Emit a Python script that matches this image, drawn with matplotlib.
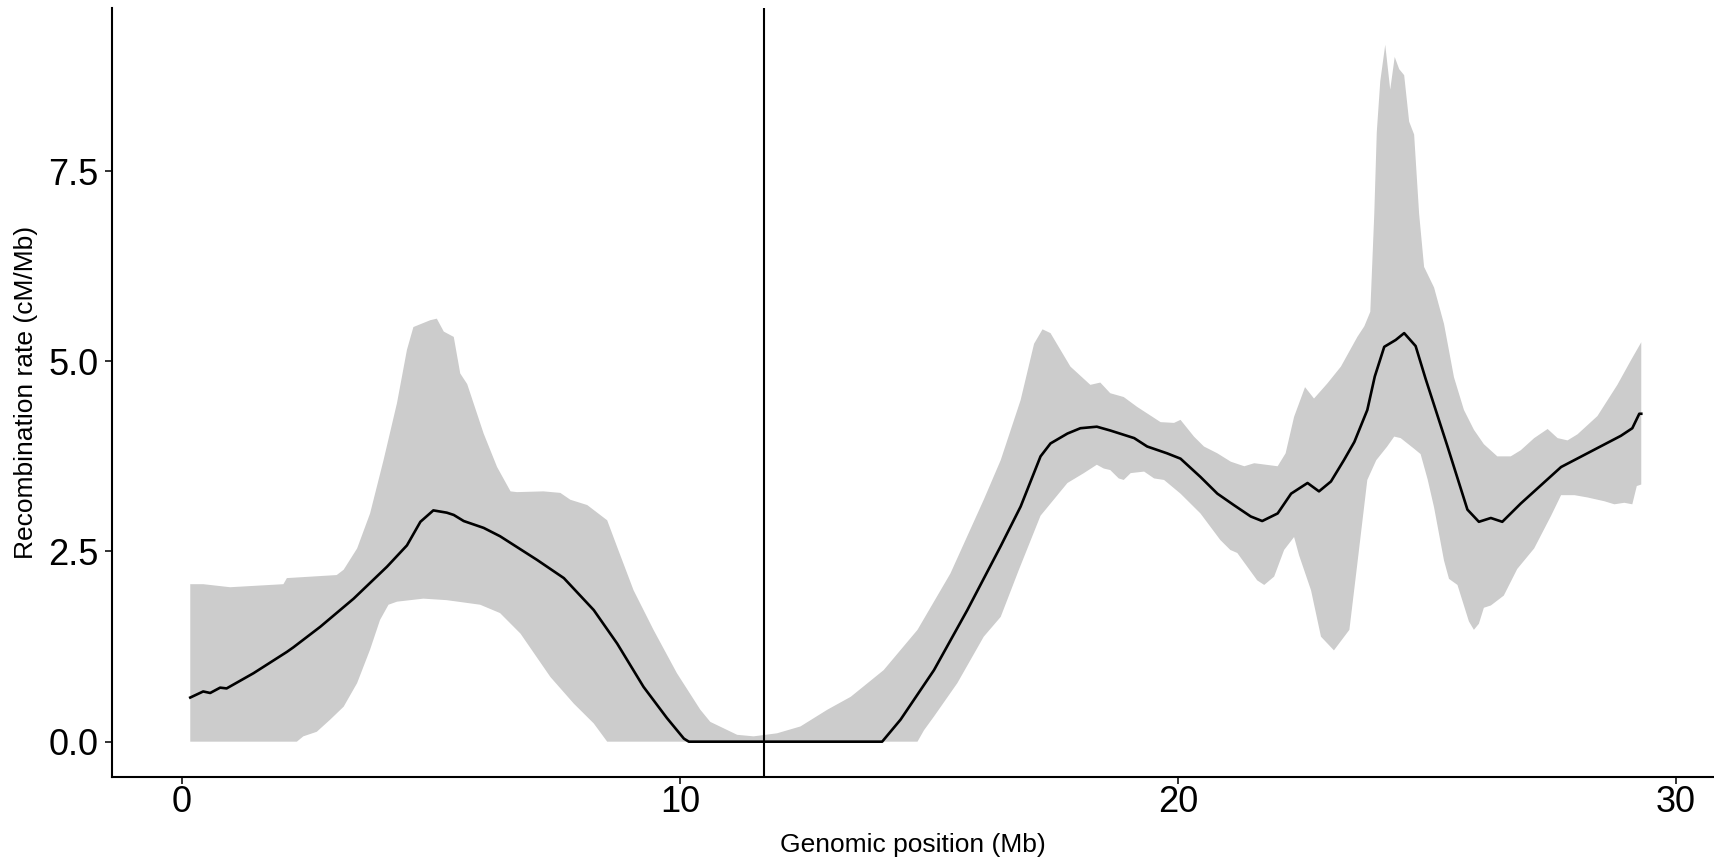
import matplotlib
matplotlib.use("Agg")
import matplotlib.pyplot as plt
import numpy as np

plt.rcParams['font.family'] = ['Liberation Sans', 'DejaVu Sans']

# upper edge of the ribbon
upper_x = [0.17, 0.43, 0.97, 2.04, 2.11, 3.11, 3.25, 3.52, 3.78, 4.05, 4.32, 4.52, 4.65, 4.99,
           5.12, 5.26, 5.46, 5.59, 5.73, 6.06, 6.33, 6.60, 6.73, 7.26, 7.60, 7.80, 8.14, 8.54,
           8.74, 9.07, 9.47, 9.94, 10.41, 10.61, 11.15, 11.48, 11.95, 12.42, 12.96,
           13.43, 14.09, 14.77, 15.43, 16.10, 16.44, 16.84, 17.11, 17.28, 17.44, 17.84, 18.24,
           18.44, 18.64, 18.91, 19.18, 19.65, 19.92, 20.05, 20.32, 20.52, 20.79, 21.06, 21.33,
           21.53, 22.00, 22.16, 22.33, 22.55, 22.73, 23.00, 23.27, 23.60, 23.74, 23.86,
           23.94, 23.99, 24.06, 24.16, 24.26, 24.35, 24.44, 24.54, 24.64, 24.74, 24.84, 24.94,
           25.14, 25.34, 25.54, 25.74, 25.94, 26.14, 26.41, 26.68, 26.88, 27.15, 27.42, 27.62,
           27.82, 28.02, 28.42, 28.82, 29.09, 29.30]
upper_y = [2.07, 2.07, 2.03, 2.07, 2.15, 2.19, 2.26, 2.54, 3.00, 3.70, 4.45, 5.15, 5.45, 5.54,
           5.56, 5.39, 5.32, 4.84, 4.70, 4.05, 3.61, 3.29, 3.28, 3.29, 3.27, 3.18, 3.11, 2.91,
           2.56, 1.99, 1.47, 0.90, 0.42, 0.26, 0.09, 0.07, 0.11, 0.20, 0.42,
           0.59, 0.94, 1.47, 2.21, 3.18, 3.70, 4.49, 5.23, 5.42, 5.37, 4.93, 4.69,
           4.72, 4.58, 4.53, 4.40, 4.20, 4.19, 4.23, 4.01, 3.88, 3.79, 3.68, 3.62,
           3.66, 3.62, 3.79, 4.27, 4.66, 4.51, 4.71, 4.93, 5.32, 5.46, 5.65,
           6.94, 8.01, 8.68, 9.16, 8.57, 9.00, 8.84, 8.76, 8.15, 7.98, 6.94, 6.24,
           5.97, 5.49, 4.79, 4.36, 4.10, 3.91, 3.75, 3.75, 3.83, 3.99, 4.11, 3.99,
           3.96, 4.04, 4.28, 4.69, 5.01, 5.25]

# lower edge of the ribbon
lower_x = [0.17, 2.31, 2.44, 2.71, 2.98, 3.25, 3.52, 3.78, 3.98, 4.15, 4.32, 4.85, 5.32, 5.99,
           6.39, 6.80, 7.40, 7.87, 8.27, 8.54, 14.77, 14.90, 15.10, 15.57, 16.10,
           16.44, 16.80, 17.24, 17.78, 18.11, 18.37, 18.51, 18.64, 18.81, 18.91, 19.05, 19.32,
           19.52, 19.72, 20.05, 20.45, 20.85, 21.05, 21.19, 21.39, 21.59, 21.73, 21.93, 22.13,
           22.33, 22.43, 22.67, 22.87, 23.13, 23.44, 23.60, 23.80, 23.98, 24.20,
           24.34, 24.47, 24.74, 24.87, 25.01, 25.14, 25.34, 25.44, 25.61, 25.84, 25.94, 26.04,
           26.14, 26.28, 26.54, 26.81, 27.15, 27.49, 27.69, 27.96, 28.22, 28.56, 28.76, 28.96,
           29.12, 29.21, 29.30]
lower_y = [0.00, 0.00, 0.07, 0.13, 0.29, 0.46, 0.77, 1.21, 1.60, 1.80, 1.84, 1.88, 1.86, 1.80,
           1.69, 1.42, 0.85, 0.50, 0.24, 0.00, 0.00, 0.15, 0.33, 0.77, 1.38,
           1.64, 2.25, 2.97, 3.40, 3.53, 3.64, 3.59, 3.57, 3.46, 3.44, 3.53, 3.55,
           3.46, 3.44, 3.26, 3.00, 2.65, 2.52, 2.48, 2.30, 2.12, 2.06, 2.17, 2.52,
           2.69, 2.45, 1.99, 1.38, 1.20, 1.47, 2.34, 3.44, 3.70, 3.88,
           4.01, 3.99, 3.85, 3.78, 3.45, 3.08, 2.38, 2.14, 2.06, 1.58, 1.47, 1.55,
           1.76, 1.79, 1.92, 2.27, 2.54, 2.97, 3.24, 3.24, 3.21, 3.16, 3.12, 3.14,
           3.12, 3.36, 3.38]

# smoothed recombination rate
mean_x = [0.17, 0.43, 0.57, 0.77, 0.90, 1.44, 2.11, 2.24, 2.78, 3.45, 4.12, 4.52, 4.79, 5.05,
          5.32, 5.46, 5.66, 6.06, 6.39, 7.13, 7.67, 8.27, 8.74, 9.27, 9.74, 10.08, 10.18,
          14.06, 14.43, 15.10, 15.77, 16.44, 16.84, 17.24, 17.44, 17.78, 18.04, 18.37, 18.64,
          19.12, 19.38, 19.78, 20.05, 20.45, 20.79, 21.12, 21.46, 21.69, 22.00, 22.27, 22.60,
          22.83, 23.07, 23.33, 23.54, 23.80, 23.95, 24.14, 24.37, 24.54, 24.77, 24.97,
          25.41, 25.81, 26.04, 26.28, 26.51, 26.88, 27.69, 28.89, 29.12, 29.26, 29.30]
mean_y = [0.58, 0.66, 0.64, 0.71, 0.70, 0.90, 1.18, 1.24, 1.51, 1.88, 2.30, 2.58, 2.89, 3.04,
          3.01, 2.98, 2.90, 2.81, 2.70, 2.39, 2.15, 1.73, 1.29, 0.72, 0.31, 0.04, 0.00,
          0.00, 0.29, 0.94, 1.73, 2.57, 3.09, 3.75, 3.92, 4.05, 4.12, 4.14, 4.09,
          3.99, 3.88, 3.79, 3.72, 3.48, 3.26, 3.11, 2.96, 2.90, 3.00, 3.26, 3.40,
          3.29, 3.42, 3.70, 3.94, 4.36, 4.80, 5.19, 5.28, 5.37, 5.20, 4.77,
          3.88, 3.05, 2.89, 2.94, 2.89, 3.13, 3.61, 4.02, 4.12, 4.31, 4.31]

centromere = 11.68

fig = plt.figure(figsize=(17.14, 8.6), dpi=100)
ax = fig.add_axes([0.0652, 0.0969, 0.9348, 0.8935])

ax.fill(np.concatenate([upper_x, lower_x[::-1]]),
        np.concatenate([upper_y, lower_y[::-1]]),
        color='#cccccc', linewidth=0)
ax.plot(mean_x, mean_y, color='black', linewidth=1.9)
ax.axvline(centromere, color='black', linewidth=1.5)

ax.set_xlim(-1.406, 30.76)
ax.set_ylim(-0.46, 9.64)
ax.set_xticks([0, 10, 20, 30])
ax.set_yticks([0, 2.5, 5.0, 7.5])
ax.set_yticklabels(['0.0', '2.5', '5.0', '7.5'])

for s in ['top', 'right']:
    ax.spines[s].set_visible(False)
for s in ['left', 'bottom']:
    ax.spines[s].set_linewidth(1.5)
    ax.spines[s].set_color('black')

ax.tick_params(axis='both', direction='out', length=5, width=1.4, color='#333333',
               labelsize=26, labelcolor='black')
ax.tick_params(axis='x', pad=1)
ax.tick_params(axis='y', pad=4.5)

ax.set_xlabel('Genomic position (Mb)', fontsize=19)
ax.set_ylabel('Recombination rate (cM/Mb)', fontsize=19)
ax.xaxis.set_label_coords(0.4997, -0.0735)
ax.yaxis.set_label_coords(-0.046, 0.5)

fig.savefig('out.png', dpi=100)
